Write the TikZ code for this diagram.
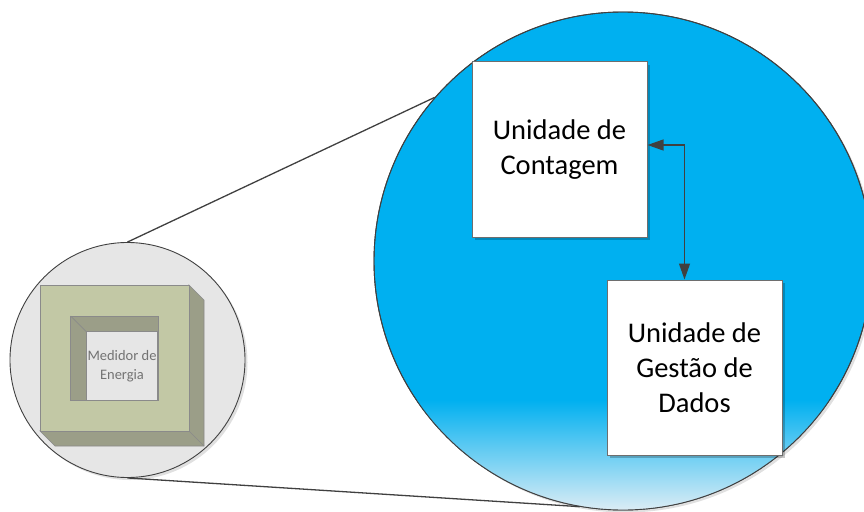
\documentclass[tikz,border=0pt]{standalone}
\usepackage{fontspec}
\setmainfont{Carlito}
\usetikzlibrary{positioning, shadows, arrows.meta}
\definecolor{zoomblue}{HTML}{00B0F0}
\definecolor{zoompale}{HTML}{DDEDF5}
\definecolor{edgegray}{HTML}{404040}
\definecolor{boxedge}{HTML}{6E6E6E}
\definecolor{meterfront}{HTML}{C2C8A5}
\definecolor{meterside}{HTML}{9B9E88}
\definecolor{meterface}{HTML}{E6E6E6}
\definecolor{meterline}{HTML}{8A8A8A}
\definecolor{metertext}{HTML}{737373}
\tikzset{
  x=1pt, y=-1pt,
  unitbox/.style={rectangle, draw=boxedge, fill=white, line width=1pt,
    minimum size=175pt, inner sep=0pt, align=center,
    font=\fontsize{28.5}{35}\selectfont,
    drop shadow={shadow xshift=3pt, shadow yshift=-3pt, fill=black, opacity=0.22}},
  lens/.style={circle, draw=edgegray, line width=0.9pt, inner sep=0pt,
    drop shadow={shadow xshift=2.5pt, shadow yshift=-2.5pt, fill=black, opacity=0.12}},
  link/.style={draw=edgegray, line width=1.3pt,
    {Triangle[length=16pt,width=11pt]}-{Triangle[length=16pt,width=11pt]}},
  meteredge/.style={draw=meterline, line width=0.7pt},
  meterlabel/.style={rectangle, meteredge, fill=meterface, inner sep=0pt,
    align=center, text=metertext, font=\fontsize{14.5}{19}\selectfont},
}

\begin{document}
\begin{tikzpicture}
  \useasboundingbox (0,0) rectangle (864,511);
  \clip (0,0) rectangle (864,511);

  % zoomed circle
  \node[lens, fill=zoomblue, minimum size=498pt] (zoom) at (623,261) {};
  \begin{scope}
    \clip (zoom.center) circle[radius=249pt];
    \shade[top color=zoomblue, middle color=zoomblue!60!zoompale, bottom color=zoompale]
      (370,400) rectangle (880,511);
  \end{scope}
  \draw[edgegray, line width=0.9pt] (zoom.center) circle[radius=249pt];

  % meter circle
  \node[lens, fill=meterface, minimum size=235pt] (meter) at (127.5,360) {};

  % meter body
  \filldraw[meteredge, fill=meterside]
    (189,285) -- (204,300) -- (204,446) -- (55,446) -- (40,431) -- (189,431) -- cycle;
  \draw[meteredge] (189,431) -- (204,446);
  \filldraw[meteredge, fill=meterfront] (40,285) rectangle (189,431);
  \filldraw[meteredge, fill=meterside] (70.7,316) rectangle (158,400.7);
  \draw[meteredge] (70.7,316) -- (86.7,332);
  \node[meterlabel, minimum width=71.3pt, minimum height=68.7pt, anchor=south east]
    (display) at (158,400.7) {Medidor de\\Energia};

  % zoom lines
  \draw[edgegray, line width=1.3pt] (meter.north) -- (zoom.139.7);
  \draw[edgegray, line width=1.3pt] (meter.south) -- (zoom.260.2);

  % units
  \node[unitbox] (cont) at (559.5,149.5) {Unidade de\\Contagem};
  \node[unitbox, below right=42pt and -41pt of cont] (gest) {Unidade de\\Gestão de\\Dados};

  \draw[link] ([yshift=4.5pt]cont.east) -| ([xshift=-10pt]gest.north);
\end{tikzpicture}
\end{document}
